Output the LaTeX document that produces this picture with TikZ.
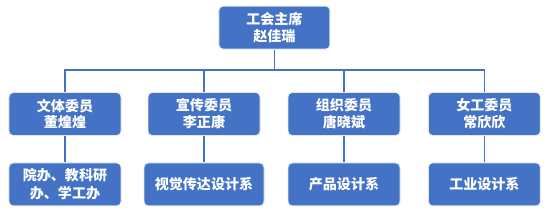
\documentclass[tikz,border=0pt]{standalone}
\usepackage{fontspec}
\setmainfont{Noto Sans CJK SC}
\usetikzlibrary{
  arrows.meta,
  positioning,
  calc
}
\definecolor{azul}{RGB}{68,114,196}

\begin{document}
\begin{tikzpicture}[
      cargo/.style={draw=white!85!azul, fill=azul, rounded corners=3pt,
                    minimum width=2.8cm, minimum height=1.075cm,
                    align=center, text=white,
                    font=\fontsize{10}{12}\selectfont\bfseries, line width=0.6pt},
      depto/.style={cargo, font=\fontsize{10}{13}\selectfont\bfseries},
      linha/.style={draw=azul, line width=0.8pt}
  ]
      \useasboundingbox (0,0) rectangle (13.85,5.4);

      % Presidente
      \node[cargo, minimum width=2.775cm] (pres) at (6.86,4.71) {工会主席\\赵佳瑞};
      \coordinate (bus) at (6.86,3.65);

      % Comissários
      \node[cargo] (wt) at (1.625,2.55) {文体委员\\董煌煌};
      \node[cargo] (xc) at (5.1,2.55)   {宣传委员\\李正康};
      \node[cargo] (zz) at (8.6,2.55)   {组织委员\\唐晓斌};
      \node[cargo] (ng) at (12.11,2.55) {女工委员\\常欣欣};

      % Departamentos
      \node[depto] (wtd) at (1.625,0.79) {院办、教科研\\办、学工办};
      \node[depto, minimum width=3.0cm] (xcd) at (5.1,0.79) {视觉传达设计系};
      \node[depto] (zzd) at (8.6,0.79)   {产品设计系};
      \node[depto] (ngd) at (12.11,0.79) {工业设计系};

      % Ligações
      \draw[linha] (pres.south) -- (bus);
      \draw[linha] (wt.north) |- (bus);
      \draw[linha] (xc.north) |- (bus);
      \draw[linha] (zz.north) |- (bus);
      \draw[linha] (ng.north) |- (bus);

      \draw[linha] (wt.south) -- (wtd.north);
      \draw[linha] (xc.south) -- (xcd.north);
      \draw[linha] (zz.south) -- (zzd.north);
      \draw[linha] (ng.south) -- (ngd.north);
  \end{tikzpicture}
\end{document}
